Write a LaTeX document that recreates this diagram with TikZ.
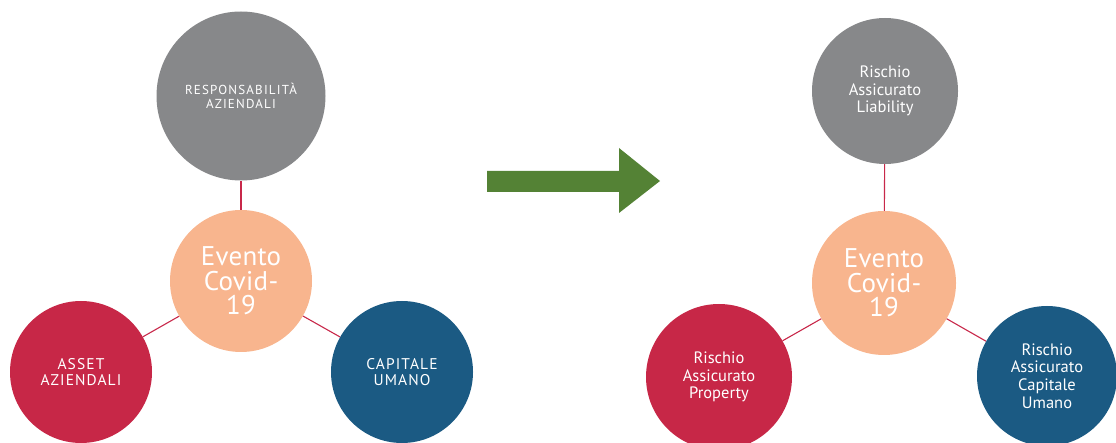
\documentclass[tikz,border=0pt]{standalone}
\usepackage{fontspec}
\setmainfont{PT Sans}
\usetikzlibrary{positioning, arrows.meta}

\definecolor{ballgray}{HTML}{87888A}
\definecolor{ballorange}{HTML}{F8B58E}
\definecolor{ballred}{HTML}{C72747}
\definecolor{ballblue}{HTML}{1B5A83}
\definecolor{linkred}{HTML}{C8284A}
\definecolor{arrowgreen}{HTML}{548235}

\begin{document}
\begin{tikzpicture}[x=1pt,y=-1pt,
    ball/.style={circle,inner sep=0pt,text=white,align=center,font=\fontsize{16.5}{17.7}\selectfont},
    caps/.style={ball,font=\fontsize{15.5}{16.5}\selectfont\addfontfeature{LetterSpace=7}},
    core/.style={ball,fill=ballorange,minimum size=142pt,font=\fontsize{27}{24.5}\selectfont\addfontfeature{LetterSpace=1}},
    link/.style={draw=linkred,line width=1.1pt}]
  \useasboundingbox (0,0) rectangle (1116,443);

  % prima
  \node[caps,fill=ballgray,minimum size=169pt,font=\fontsize{13}{13.5}\selectfont\addfontfeature{LetterSpace=9}] (resp) at (241,96) {RESPONSABILITÀ\\AZIENDALI};
  \node[core] (eventoA) at (241,281) {Evento\\Covid-\\19};
  \node[caps,fill=ballred,minimum size=142pt] (asset) at (81,372) {ASSET\\AZIENDALI};
  \node[caps,fill=ballblue,minimum size=142pt] (capitale) at (402,372) {CAPITALE\\UMANO};
  \path[link]
    (eventoA) edge (resp)
        edge (asset)
        edge (capitale);

  % freccia
  \fill[arrowgreen] (487,171) -- (619,171) -- (619,148) -- (660,181)
    -- (619,213) -- (619,192) -- (487,192) -- cycle;

  % dopo
  \node[ball,fill=ballgray,minimum size=146pt] (liab) at (885,91) {Rischio\\Assicurato\\Liability};
  \node[core,minimum size=144pt] (eventoB) at (884,283) {Evento\\Covid-\\19};
  \node[ball,fill=ballred,minimum size=146pt] (property) at (719,377) {Rischio\\Assicurato\\Property};
  \node[ball,fill=ballblue,minimum size=140pt] (umano) at (1047,376) {Rischio\\Assicurato\\Capitale\\Umano};
  \path[link]
    (eventoB) edge (liab)
        edge (property)
        edge (umano);
\end{tikzpicture}
\end{document}
